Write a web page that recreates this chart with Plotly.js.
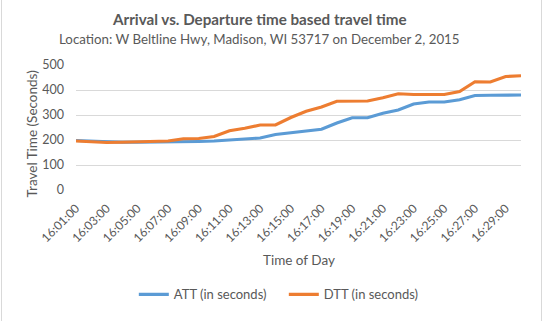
<!DOCTYPE html>
<html>
<head>
<meta charset="utf-8">
<script src="https://cdn.plot.ly/plotly-3.0.1.min.js"></script>
<style>
html,body{margin:0;padding:0;background:#fff;}
#chart{width:544px;height:321px;}
#frame{position:absolute;left:1px;top:-2px;width:539px;height:340px;border:1px solid #d9d9d9;pointer-events:none;}
</style>
</head>
<body>
<div id="chart"></div>
<div id="frame"></div>
<script>
const times = ["16:01:00","16:02:00","16:03:00","16:04:00","16:05:00","16:06:00","16:07:00","16:08:00","16:09:00","16:10:00",
"16:11:00","16:12:00","16:13:00","16:14:00","16:15:00","16:16:00","16:17:00","16:18:00","16:19:00","16:20:00",
"16:21:00","16:22:00","16:23:00","16:24:00","16:25:00","16:26:00","16:27:00","16:28:00","16:29:00","16:30:00"];
const att = [198,195,192,191,191,191,192,193,194,196,200,206,208,222,229,237,243,268,289,289,307,320,344,352,352,361,378,379,380,380];
const dtt = [196,193,190,191,193,196,196,205,206,214,237,247,260,260,290,315,332,355,354,356,369,385,382,382,382,394,433,432,454,457];

const fontFam = "Lato, 'Open Sans', sans-serif";
const gray = "#595959";

const data = [
  {x: times, y: att, type: "scatter", mode: "lines", name: "ATT (in seconds)", line: {color: "#5B9BD5", width: 3.2}},
  {x: times, y: dtt, type: "scatter", mode: "lines", name: "DTT (in seconds)", line: {color: "#ED7D31", width: 3.2}}
];

const layout = {
  width: 544, height: 321,
  margin: {l: 76, r: 23, t: 65, b: 129},
  paper_bgcolor: "#fff", plot_bgcolor: "#fff",
  font: {family: fontFam, color: gray, size: 12},
  showlegend: true,
  legend: {orientation: "h", x: 0.467, xanchor: "center", y: -0.835, yanchor: "middle", entrywidth: 105, font: {size: 13, color: gray}},
  xaxis: {
    type: "category", tickmode: "linear", tick0: 0, dtick: 2, tickangle: -45,
    showgrid: false, showline: false, zeroline: false, ticks: "", ticklabelstandoff: 8,
    tickfont: {size: 12, color: gray}
  },
  yaxis: {
    range: [0, 500], dtick: 100, showgrid: true, gridcolor: "#d9d9d9", gridwidth: 1,
    zeroline: false, showline: false, ticks: "", ticklabelstandoff: 11,
    tickfont: {size: 12.5, color: gray}
  },
  annotations: [
    {text: "<b>Arrival vs. Departure time based travel time</b>", xref: "paper", yref: "paper", x: 0.413, y: 1.37, xanchor: "center", yanchor: "middle", showarrow: false, font: {size: 15.2, color: gray}},
    {text: "Location: W Beltline Hwy, Madison, WI 53717 on December 2, 2015", xref: "paper", yref: "paper", x: 0.413, y: 1.21, xanchor: "center", yanchor: "middle", showarrow: false, font: {size: 13.3, color: gray}},
    {text: "Time of Day", xref: "paper", yref: "paper", x: 0.5, y: -0.56, xanchor: "center", yanchor: "middle", showarrow: false, font: {size: 13.5, color: gray}},
    {text: "Travel Time (Seconds)", xref: "paper", yref: "paper", x: -0.1, y: 0.449, xanchor: "center", yanchor: "middle", textangle: -90, showarrow: false, font: {size: 13.5, color: gray}}
  ]
};

Plotly.newPlot("chart", data, layout, {displayModeBar: false, staticPlot: true});
</script>
</body>
</html>
